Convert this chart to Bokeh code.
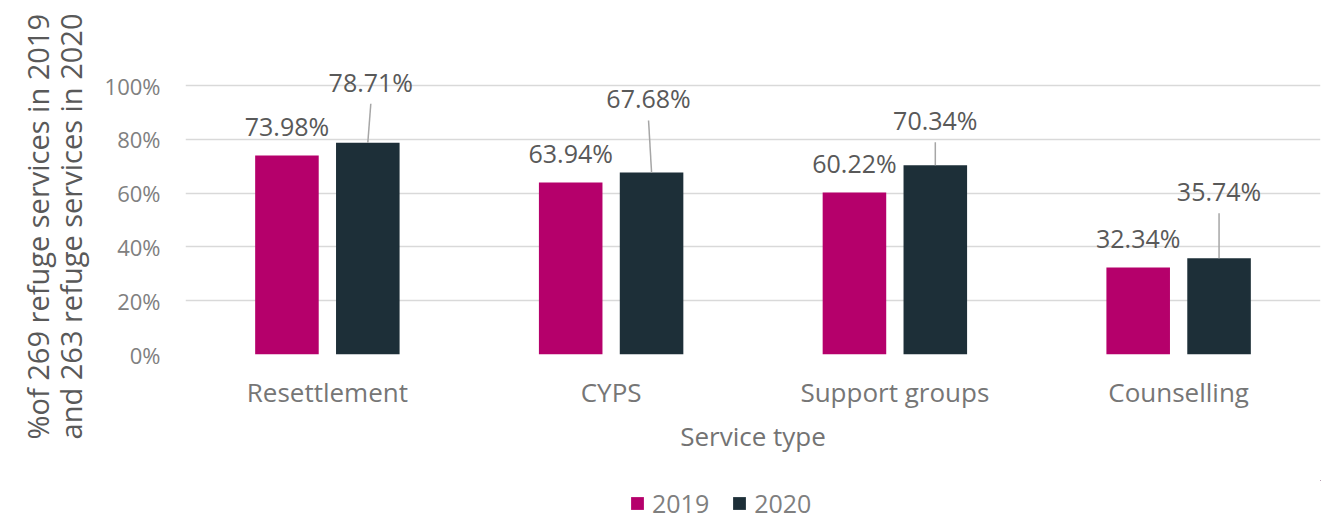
import numpy as np
from bokeh.plotting import figure
from bokeh.layouts import column
from bokeh.models import Range1d, FixedTicker, Legend, LegendItem, Title
from bokeh.core.properties import value
from bokeh.embed import file_html
from bokeh.resources import INLINE

# ---------------- data ----------------
categories = ["Resettlement", "CYPS", "Support groups", "Counselling"]
pct_2019 = [73.98, 63.94, 60.22, 32.34]
pct_2020 = [78.71, 67.68, 70.34, 35.74]
series_names = ["2019", "2020"]
y_ticks = [0, 20, 40, 60, 80, 100]
y_tick_labels = ["0%", "20%", "40%", "60%", "80%", "100%"]
y_title = "%of 269 refuge services in 2019\nand 263 refuge services in 2020"
x_title = "Service type"

# ---------------- layout / style ----------------
FONT = "Open Sans"
C2019 = "#B5006B"
C2020 = "#1D2F38"
W = 1322
H_MAIN, H_LEG = 480, 39
LEFT, TOP, BOTTOM, RIGHT = 185, 60, 126, 2
PX_PER_100 = 269                     # pixel height of 0..100 %
PX_PER_CAT = 283.75
BAR_W = 0.224
DODGE = 0.1425
TEXT_FIX_PX = 11                     # renderer baseline correction
LIFT_2019_PX = 18.5
lift_2020_px = [50, 63, 34, 56]      # label baseline height above bar top
shift_2020_px = [3, -3, 0, 0]        # label horizontal nudge
LEADER_GAP_PX = 11

frame_w = W - LEFT - RIGHT
frame_h = H_MAIN - TOP - BOTTOM
px_y = 100.0 / PX_PER_100
px_x = 1.0 / PX_PER_CAT

centers = np.arange(len(categories)) + 0.5
x19 = centers - DODGE
x20 = centers + DODGE
v19 = np.array(pct_2019)
v20 = np.array(pct_2020)

lbl19 = [f"{v:.2f}%" for v in pct_2019]
lbl20 = [f"{v:.2f}%" for v in pct_2020]

lift20 = np.array(lift_2020_px)
lx20 = x20 + np.array(shift_2020_px) * px_x
ly20 = v20 + (lift20 + TEXT_FIX_PX) * px_y
lead_top = v20 + (lift20 - LEADER_GAP_PX) * px_y

p = figure(width=W, height=H_MAIN,
           x_range=Range1d(0, frame_w * px_x), y_range=Range1d(0, frame_h * px_y),
           output_backend="svg", toolbar_location=None,
           min_border_left=LEFT, min_border_top=TOP,
           min_border_bottom=BOTTOM, min_border_right=RIGHT)
p.outline_line_color = None

# grid
p.xgrid.grid_line_color = None
p.ygrid.ticker = FixedTicker(ticks=y_ticks)
p.ygrid.grid_line_color = "#d9d9d9"
p.ygrid.grid_line_width = 1.5

# bars
r19 = p.vbar(x=x19, top=v19, width=BAR_W, bottom=0, fill_color=C2019, line_color=None)
r20 = p.vbar(x=x20, top=v20, width=BAR_W, bottom=0, fill_color=C2020, line_color=None)

# leader lines for 2020 labels
p.segment(x0=x20, y0=v20, x1=lx20, y1=lead_top, line_color="#a6a6a6", line_width=1.5)

# data labels
p.text(x=x19, y=v19, text=lbl19, y_offset=-(LIFT_2019_PX + TEXT_FIX_PX),
       text_align="center", text_baseline="alphabetic",
       text_font=value(FONT), text_font_size="25px", text_color="#595959")
p.text(x=lx20, y=ly20, text=lbl20,
       text_align="center", text_baseline="alphabetic",
       text_font=value(FONT), text_font_size="25px", text_color="#595959")

# axes
yax = p.yaxis[0]
yax.ticker = FixedTicker(ticks=y_ticks)
yax.major_label_overrides = {t: l for t, l in zip(y_ticks, y_tick_labels)}
yax.axis_line_color = None
yax.major_tick_line_color = None
yax.minor_tick_line_color = None
yax.major_tick_out = 0
yax.major_label_standoff = 25
yax.major_label_text_font = FONT
yax.major_label_text_font_size = "22px"
yax.major_label_text_color = "#808080"

# y-axis title as a left-side title, top-aligned (lines right-aligned when rotated)
ytitle = Title(text=y_title, align="right", offset=-47, standoff=19,
               vertical_align="top",
               text_font=FONT, text_font_size="29px", text_font_style="normal",
               text_color="#595959", text_line_height=0.84)
p.add_layout(ytitle, "left")

xax = p.xaxis[0]
xax.ticker = FixedTicker(ticks=list(centers))
xax.major_label_overrides = {float(c): n for c, n in zip(centers, categories)}
xax.axis_line_color = None
xax.major_tick_line_color = None
xax.minor_tick_line_color = None
xax.major_tick_out = 0
xax.major_label_standoff = 19
xax.major_label_text_font = FONT
xax.major_label_text_font_size = "26px"
xax.major_label_text_color = "#767676"
xax.axis_label = x_title
xax.axis_label_text_font = FONT
xax.axis_label_text_font_size = "26px"
xax.axis_label_text_font_style = "normal"
xax.axis_label_text_color = "#737373"
xax.axis_label_standoff = 5

# legend (separate strip below the chart; its proxies lie outside its visible ranges)
pl = figure(width=W, height=H_LEG, x_range=Range1d(-3, -2),
            y_range=Range1d(-2, -1),
            x_axis_type=None, y_axis_type=None,
            output_backend="svg", toolbar_location=None,
            min_border=0, min_border_left=0, min_border_right=0,
            min_border_top=0, min_border_bottom=0)
pl.outline_line_color = None
pl.grid.grid_line_color = None
d19 = pl.vbar(x=x19, top=v19, width=BAR_W, fill_color=C2019, line_color=None)
d20 = pl.vbar(x=x20, top=v20, width=BAR_W, fill_color=C2020, line_color=None)
legend = Legend(items=[LegendItem(label=series_names[0], renderers=[d19]),
                       LegendItem(label=series_names[1], renderers=[d20])],
                orientation="horizontal", location=(629 - LEFT, -1),
                padding=0, margin=0, spacing=22, label_standoff=7,
                glyph_width=16, glyph_height=16, label_height=22,
                border_line_color=None, background_fill_alpha=0,
                label_text_font=FONT, label_text_font_size="25px",
                label_text_color="#7f7f7f")
pl.add_layout(legend, "center")

layout = column(p, pl, spacing=0)
open("out.html", "w").write(file_html(layout, INLINE))
